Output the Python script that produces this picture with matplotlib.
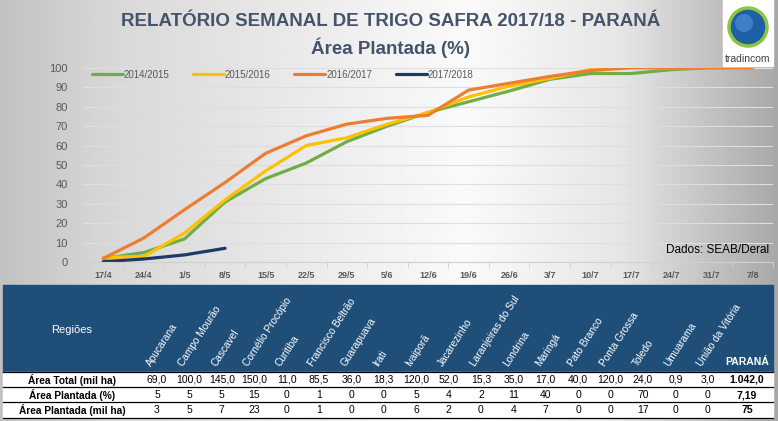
import numpy as np
import matplotlib
matplotlib.use("Agg")
import matplotlib.pyplot as plt
from matplotlib.patches import Rectangle, Circle

plt.rcParams['font.family'] = ['Liberation Sans', 'DejaVu Sans']

# ---- dados do gráfico
semanas = ['17/4', '24/4', '1/5', '8/5', '15/5', '22/5', '29/5', '5/6', '12/6',
           '19/6', '26/6', '3/7', '10/7', '17/7', '24/7', '31/7', '7/8']
safra_1415 = [2, 5, 12, 31, 43, 51, 62, 70, 77, 82.5, 88, 94, 97, 97, 99, 100, 100]
safra_1516 = [2.5, 3, 15, 32, 47, 60, 64, 71, 77, 85, 90.5, 94.5, 99, 100, 100, 100, 100]
safra_1617 = [2, 12.5, 27, 41, 56, 65, 71, 74, 75.5, 88.5, 92, 95.5, 98.5, 100, 100, 100, 100]
safra_1718 = [0.3, 1.7, 3.8, 7.2]

# ---- dados da tabela
regioes = ['Apucarana', 'Campo Mourão', 'Cascavel', 'Cornélio Procópio', 'Curitiba',
           'Francisco Beltrão', 'Guarapuava', 'Irati', 'Ivaiporã', 'Jacarezinho',
           'Laranjeiras do Sul', 'Londrina', 'Maringá', 'Pato Branco', 'Ponta Grossa',
           'Toledo', 'Umuarama', 'União da Vitória']
area_total = ['69,0', '100,0', '145,0', '150,0', '11,0', '85,5', '36,0', '18,3', '120,0',
              '52,0', '15,3', '35,0', '17,0', '40,0', '120,0', '24,0', '0,9', '3,0']
area_pct = ['5', '5', '5', '15', '0', '1', '0', '0', '5', '4', '2', '11', '40', '0', '0',
            '70', '0', '0']
area_milha = ['3', '5', '7', '23', '0', '1', '0', '0', '6', '2', '0', '4', '7', '0', '0',
              '17', '0', '0']
total_parana = ['1.042,0', '7,19', '75']
linhas = ['Área Total (mil ha)', 'Área Plantada (%)', 'Área Plantada (mil ha)']

W, H = 778, 421
fig = plt.figure(figsize=(W / 100, H / 100), dpi=100)

# fundo em degradê
bg = fig.add_axes([0, 0, 1, 1], zorder=0)
xs = np.linspace(0, 1, 400)
shade = np.interp(xs, [0, 0.15, 0.6, 0.8, 1.0], [0.76, 0.85, 0.98, 0.9, 0.66])
bg.imshow(np.tile(shade, (10, 1)), cmap='gray', vmin=0, vmax=1, aspect='auto',
          extent=[0, W, H, 0])
bg.set_xlim(0, W)
bg.set_ylim(H, 0)
bg.axis('off')

# ---- gráfico
ax = fig.add_axes([83 / W, 1 - 262.3 / H, 690 / W, 194.6 / H], zorder=2)
ax.patch.set_alpha(0)
x = np.arange(len(semanas))
ax.plot(x, safra_1415, color='#70AD47', lw=2.3, label='2014/2015', solid_capstyle='round')
ax.plot(x, safra_1516, color='#FFC000', lw=2.3, label='2015/2016', solid_capstyle='round')
ax.plot(x, safra_1617, color='#ED7D31', lw=2.3, label='2016/2017', solid_capstyle='round')
ax.plot(x[:len(safra_1718)], safra_1718, color='#203864', lw=2.3, label='2017/2018',
        solid_capstyle='round')
ax.set_xlim(-0.5, len(semanas) - 0.5)
ax.set_ylim(0, 100)
ax.set_yticks(range(0, 101, 10))
ax.set_xticks(x)
ax.set_xticklabels(semanas, fontsize=6.5, color='#595959', fontweight='bold')
ax.set_xticks(np.arange(-0.5, len(semanas), 1), minor=True)
ax.tick_params(axis='x', which='major', length=0, pad=6)
ax.tick_params(axis='x', which='minor', length=4, color='#d0d0d0', direction='out')
ax.tick_params(axis='y', length=0, labelsize=8, labelcolor='#595959', pad=11)
ax.grid(axis='y', color='#dedede', lw=0.8)
for s in ['top', 'right', 'left']:
    ax.spines[s].set_visible(False)
ax.spines['bottom'].set_color('#d0d0d0')
ax.legend(loc='upper left', ncol=4, frameon=False, fontsize=7, handlelength=3.2,
          columnspacing=2.4, handletextpad=0.1, bbox_to_anchor=(0.0, 1.035),
          labelcolor='#595959')
ax.text(0.995, 0.03, 'Dados: SEAB/Deral', transform=ax.transAxes, ha='right',
        va='bottom', fontsize=8.5, color='black')

# ---- títulos, logo e tabela (coordenadas em pixels)
ov = fig.add_axes([0, 0, 1, 1], zorder=3)
ov.set_xlim(0, W)
ov.set_ylim(H, 0)
ov.axis('off')
ov.patch.set_alpha(0)

ov.text(391, 22, 'RELATÓRIO SEMANAL DE TRIGO SAFRA 2017/18 - PARANÁ', ha='center',
        va='center', fontsize=13.5, color='#44546A', fontweight='bold')
ov.text(391, 48, 'Área Plantada (%)', ha='center', va='center', fontsize=13.5,
        color='#44546A', fontweight='bold')

ov.add_patch(Rectangle((723, 0), 50, 66, color='white', zorder=1))
ov.add_patch(Circle((748, 27), 19, facecolor='#1f5fa8', edgecolor='#8cc63f', lw=2.5, zorder=2))
ov.add_patch(Circle((744, 23), 9, facecolor='#4a8fd6', edgecolor='none', alpha=0.7, zorder=3))
ov.text(748, 59, 'tradincom', ha='center', va='center', fontsize=7.5, color='#404040')

ov.add_patch(Rectangle((3, 285), 770, 87, color='#1F4E79', zorder=1))
ov.add_patch(Rectangle((3, 372), 770, 46, color='white', zorder=1))
for yl in [372, 387, 402, 418]:
    ov.plot([3, 773], [yl, yl], color='black', lw=0.9, zorder=2)

ov.text(72, 330, 'Regiões', ha='center', va='center', fontsize=8, color='white')
col_x = 157 + 32.4 * np.arange(len(regioes))
for cx, nome in zip(col_x, regioes):
    ov.text(cx - 4, 368, nome, rotation=57, rotation_mode='anchor', ha='left',
            va='bottom', fontsize=7.3, color='white')
ov.text(747, 367, 'PARANÁ', ha='center', va='bottom', fontsize=7.5, color='white',
        fontweight='bold')

row_y = [380, 395, 410]
for ry, rot, vals, tot in zip(row_y, linhas, [area_total, area_pct, area_milha], total_parana):
    ov.text(72, ry, rot, ha='center', va='center', fontsize=7.3, fontweight='bold', color='black')
    for cx, v in zip(col_x, vals):
        ov.text(cx, ry, v, ha='center', va='center', fontsize=7.5, color='black')
    ov.text(747, ry, tot, ha='center', va='center', fontsize=7.5, fontweight='bold', color='black')

fig.savefig('out.png', dpi=100)
